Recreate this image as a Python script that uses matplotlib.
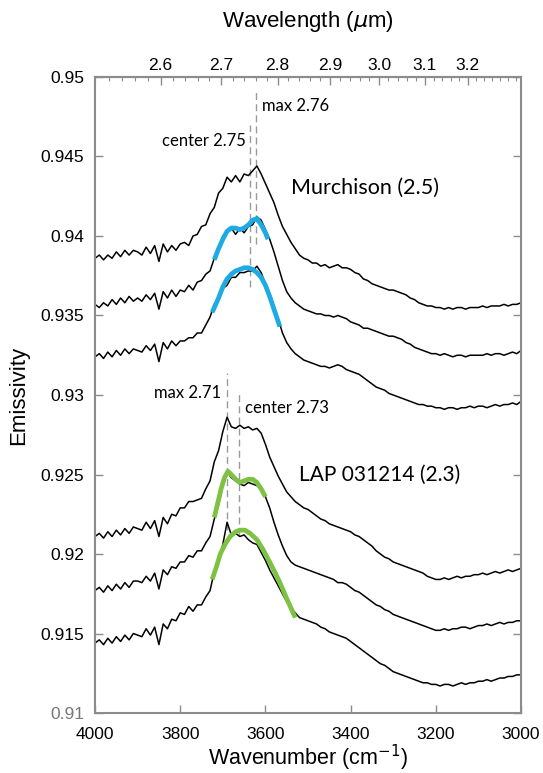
import numpy as np
import matplotlib
matplotlib.use("Agg")
import matplotlib.pyplot as plt
from matplotlib.ticker import MultipleLocator, FixedLocator, FormatStrFormatter

# wavenumber grid of the spectra (cm-1), 4000 down to 3000 in 10 cm-1 steps
wavenumber = np.arange(4000, 2999, -10)

# Murchison spectra (top to bottom)
murch_1 = [
    0.9386, 0.9388, 0.9385, 0.9388, 0.9386, 0.9390, 0.9387, 0.9391, 0.9388, 0.9391,
    0.9390, 0.9388, 0.9393, 0.9389, 0.9394, 0.9384, 0.9395, 0.9390, 0.9394, 0.9391,
    0.9395, 0.9396, 0.9394, 0.9400, 0.9401, 0.9406, 0.9407, 0.9414, 0.9418, 0.9427,
    0.9430, 0.9437, 0.9434, 0.9438, 0.9434, 0.9439, 0.9438, 0.9441, 0.9444, 0.9439,
    0.9433, 0.9427, 0.9421, 0.9413, 0.9406, 0.9401, 0.9396, 0.9392, 0.9388, 0.9386,
    0.9385, 0.9383, 0.9383, 0.9381, 0.9382, 0.9380, 0.9381, 0.9382, 0.9380, 0.9380,
    0.9379, 0.9377, 0.9376, 0.9373, 0.9372, 0.9370, 0.9369, 0.9368, 0.9367, 0.9366,
    0.9366, 0.9365, 0.9364, 0.9363, 0.9361, 0.9360, 0.9358, 0.9357, 0.9356, 0.9356,
    0.9355, 0.9355, 0.9354, 0.9355, 0.9354, 0.9355, 0.9355, 0.9354, 0.9355, 0.9355,
    0.9355, 0.9356, 0.9355, 0.9356, 0.9356, 0.9356, 0.9357, 0.9356, 0.9357, 0.9357,
    0.9358]
murch_2 = [
    0.9357, 0.9355, 0.9358, 0.9356, 0.9360, 0.9357, 0.9361, 0.9358, 0.9362, 0.9359,
    0.9361, 0.9359, 0.9363, 0.9360, 0.9364, 0.9354, 0.9365, 0.9361, 0.9366, 0.9362,
    0.9366, 0.9365, 0.9369, 0.9366, 0.9371, 0.9372, 0.9376, 0.9378, 0.9386, 0.9391,
    0.9400, 0.9402, 0.9405, 0.9401, 0.9405, 0.9402, 0.9406, 0.9407, 0.9412, 0.9410,
    0.9404, 0.9398, 0.9390, 0.9381, 0.9372, 0.9365, 0.9361, 0.9358, 0.9356, 0.9354,
    0.9353, 0.9352, 0.9351, 0.9351, 0.9350, 0.9350, 0.9349, 0.9350, 0.9349, 0.9348,
    0.9346, 0.9345, 0.9344, 0.9342, 0.9342, 0.9341, 0.9340, 0.9339, 0.9338, 0.9337,
    0.9337, 0.9336, 0.9335, 0.9333, 0.9332, 0.9330, 0.9329, 0.9328, 0.9327, 0.9326,
    0.9326, 0.9325, 0.9326, 0.9325, 0.9324, 0.9325, 0.9325, 0.9324, 0.9325, 0.9325,
    0.9325, 0.9325, 0.9326, 0.9325, 0.9326, 0.9326, 0.9325, 0.9326, 0.9327, 0.9326,
    0.9328]
murch_3 = [
    0.9324, 0.9326, 0.9323, 0.9327, 0.9324, 0.9328, 0.9325, 0.9329, 0.9326, 0.9329,
    0.9328, 0.9327, 0.9331, 0.9328, 0.9332, 0.9321, 0.9333, 0.9329, 0.9334, 0.9331,
    0.9334, 0.9334, 0.9336, 0.9336, 0.9339, 0.9339, 0.9344, 0.9349, 0.9357, 0.9361,
    0.9367, 0.9369, 0.9374, 0.9374, 0.9377, 0.9377, 0.9378, 0.9378, 0.9381, 0.9377,
    0.9370, 0.9364, 0.9356, 0.9348, 0.9339, 0.9333, 0.9329, 0.9326, 0.9324, 0.9322,
    0.9321, 0.9320, 0.9319, 0.9318, 0.9318, 0.9317, 0.9318, 0.9319, 0.9318, 0.9316,
    0.9315, 0.9314, 0.9313, 0.9311, 0.9309, 0.9307, 0.9305, 0.9304, 0.9303, 0.9301,
    0.9300, 0.9299, 0.9298, 0.9297, 0.9296, 0.9295, 0.9294, 0.9294, 0.9293, 0.9293,
    0.9292, 0.9292, 0.9291, 0.9292, 0.9292, 0.9291, 0.9292, 0.9292, 0.9293, 0.9292,
    0.9293, 0.9293, 0.9292, 0.9293, 0.9294, 0.9293, 0.9294, 0.9294, 0.9295, 0.9294,
    0.9296]

# LAP 031214 spectra (top to bottom)
lap_1 = [
    0.9211, 0.9213, 0.9210, 0.9214, 0.9211, 0.9215, 0.9212, 0.9216, 0.9213, 0.9217,
    0.9216, 0.9215, 0.9220, 0.9216, 0.9221, 0.9211, 0.9223, 0.9219, 0.9225, 0.9224,
    0.9229, 0.9229, 0.9233, 0.9233, 0.9234, 0.9235, 0.9241, 0.9246, 0.9258, 0.9265,
    0.9277, 0.9286, 0.9280, 0.9279, 0.9281, 0.9279, 0.9280, 0.9278, 0.9279, 0.9276,
    0.9269, 0.9261, 0.9255, 0.9249, 0.9244, 0.9239, 0.9236, 0.9233, 0.9231, 0.9229,
    0.9228, 0.9226, 0.9224, 0.9222, 0.9221, 0.9219, 0.9218, 0.9217, 0.9216, 0.9215,
    0.9214, 0.9212, 0.9211, 0.9209, 0.9207, 0.9205, 0.9202, 0.9200, 0.9198, 0.9197,
    0.9195, 0.9194, 0.9193, 0.9192, 0.9191, 0.9190, 0.9189, 0.9188, 0.9186, 0.9185,
    0.9184, 0.9184, 0.9185, 0.9184, 0.9185, 0.9186, 0.9185, 0.9186, 0.9186, 0.9187,
    0.9187, 0.9188, 0.9187, 0.9188, 0.9189, 0.9188, 0.9189, 0.9190, 0.9189, 0.9190,
    0.9191]
lap_2 = [
    0.9177, 0.9179, 0.9176, 0.9180, 0.9177, 0.9181, 0.9178, 0.9182, 0.9179, 0.9183,
    0.9183, 0.9182, 0.9186, 0.9183, 0.9188, 0.9178, 0.9190, 0.9187, 0.9192, 0.9191,
    0.9195, 0.9195, 0.9199, 0.9198, 0.9202, 0.9202, 0.9207, 0.9211, 0.9222, 0.9231,
    0.9243, 0.9252, 0.9248, 0.9246, 0.9244, 0.9243, 0.9245, 0.9244, 0.9243, 0.9241,
    0.9236, 0.9229, 0.9220, 0.9212, 0.9205, 0.9199, 0.9195, 0.9193, 0.9192, 0.9191,
    0.9190, 0.9189, 0.9188, 0.9187, 0.9186, 0.9185, 0.9184, 0.9182, 0.9182, 0.9181,
    0.9179, 0.9177, 0.9176, 0.9174, 0.9172, 0.9170, 0.9168, 0.9167, 0.9165, 0.9164,
    0.9162, 0.9161, 0.9160, 0.9159, 0.9158, 0.9157, 0.9156, 0.9155, 0.9154, 0.9153,
    0.9152, 0.9152, 0.9153, 0.9152, 0.9153, 0.9153, 0.9154, 0.9154, 0.9153, 0.9154,
    0.9155, 0.9155, 0.9156, 0.9155, 0.9156, 0.9157, 0.9156, 0.9157, 0.9157, 0.9158,
    0.9158]
lap_3 = [
    0.9144, 0.9146, 0.9143, 0.9147, 0.9144, 0.9148, 0.9145, 0.9149, 0.9146, 0.9150,
    0.9149, 0.9148, 0.9153, 0.9149, 0.9154, 0.9143, 0.9156, 0.9153, 0.9159, 0.9158,
    0.9163, 0.9162, 0.9167, 0.9164, 0.9168, 0.9168, 0.9173, 0.9177, 0.9189, 0.9196,
    0.9206, 0.9220, 0.9212, 0.9213, 0.9211, 0.9212, 0.9209, 0.9207, 0.9206, 0.9201,
    0.9196, 0.9190, 0.9185, 0.9180, 0.9175, 0.9170, 0.9166, 0.9163, 0.9160, 0.9159,
    0.9158, 0.9157, 0.9156, 0.9154, 0.9153, 0.9151, 0.9150, 0.9149, 0.9148, 0.9147,
    0.9145, 0.9143, 0.9141, 0.9139, 0.9137, 0.9135, 0.9133, 0.9131, 0.9130, 0.9128,
    0.9126, 0.9125, 0.9124, 0.9123, 0.9122, 0.9121, 0.9120, 0.9119, 0.9119, 0.9118,
    0.9118, 0.9117, 0.9118, 0.9118, 0.9117, 0.9118, 0.9119, 0.9118, 0.9119, 0.9119,
    0.9120, 0.9120, 0.9121, 0.9120, 0.9121, 0.9122, 0.9122, 0.9123, 0.9123, 0.9124,
    0.9124]

# band fits
fit_murch_2_wn = [3720, 3710, 3700, 3690, 3680, 3670, 3660, 3650, 3640, 3630, 3620, 3610, 3600, 3594]
fit_murch_2 = [0.9385, 0.9392, 0.9398, 0.9403, 0.9405, 0.9405, 0.9404, 0.9405, 0.9407, 0.9410,
               0.9411, 0.9407, 0.9402, 0.9398]
fit_murch_3_wn = [3725, 3710, 3700, 3690, 3680, 3670, 3660, 3650, 3640, 3630, 3620, 3610, 3600,
                  3590, 3580, 3566]
fit_murch_3 = [0.9352, 0.9361, 0.9368, 0.9373, 0.9376, 0.9378, 0.9379, 0.9380, 0.9380, 0.9379,
               0.9377, 0.9374, 0.9369, 0.9362, 0.9354, 0.9343]
fit_lap_2_wn = [3720, 3712, 3704, 3696, 3688, 3680, 3670, 3660, 3650, 3640, 3630, 3620, 3610, 3600]
fit_lap_2 = [0.9223, 0.9232, 0.9241, 0.9248, 0.9252, 0.9250, 0.9247, 0.9245, 0.9246, 0.9247,
             0.9247, 0.9245, 0.9241, 0.9236]
fit_lap_3_wn = [3725, 3715, 3706, 3695, 3683, 3670, 3660, 3648, 3636, 3620, 3606, 3590, 3575,
                3566, 3550, 3530]
fit_lap_3 = [0.9184, 0.9192, 0.9200, 0.9206, 0.9211, 0.9214, 0.9215, 0.9215, 0.9213, 0.9209,
             0.9203, 0.9195, 0.9187, 0.9182, 0.9172, 0.9160]

# band position markers: (wavelength in um, y from, y to)
marker_wl = [2.75, 2.76, 2.71, 2.73]
marker_lo = [0.9368, 0.9395, 0.9215, 0.9212]
marker_hi = [0.9470, 0.9492, 0.9314, 0.9302]

yticks = [0.91, 0.915, 0.92, 0.925, 0.93, 0.935, 0.94, 0.945, 0.95]
ytick_labels = ["0.91", "0.915", "0.92", "0.925", "0.93", "0.935", "0.94", "0.945", "0.95"]
xticks = [4000, 3800, 3600, 3400, 3200, 3000]
wl_ticks = [2.6, 2.7, 2.8, 2.9, 3.0, 3.1, 3.2]

BLUE = "#1eaae2"
GREEN = "#7dc242"
FRAME = "#8c8c8c"

plt.rcParams["font.family"] = ["Liberation Sans", "DejaVu Sans"]
note_font = ["Lato", "DejaVu Sans"]

fig = plt.figure(figsize=(5.43, 7.73), dpi=100)
ax = fig.add_axes([0.175, 0.0776, 0.7845, 0.8228])

for spec in [murch_1, murch_2, murch_3, lap_1, lap_2, lap_3]:
    ax.plot(wavenumber, spec, color="black", lw=1.1, zorder=2)

ax.plot(fit_murch_2_wn, fit_murch_2, color=BLUE, lw=3.4, solid_capstyle="butt", zorder=3)
ax.plot(fit_murch_3_wn, fit_murch_3, color=BLUE, lw=3.4, solid_capstyle="butt", zorder=3)
ax.plot(fit_lap_2_wn, fit_lap_2, color=GREEN, lw=3.4, solid_capstyle="butt", zorder=3)
ax.plot(fit_lap_3_wn, fit_lap_3, color=GREEN, lw=3.4, solid_capstyle="butt", zorder=3)

for wl, y0, y1 in zip(marker_wl, marker_lo, marker_hi):
    wn = 10000.0 / wl
    ax.plot([wn, wn], [y0, y1], color="#9a9a9a", lw=1.0, ls=(0, (5, 3)), zorder=1)

# marker labels
ax.text(10000 / 2.75 + 10, 0.9460, "center 2.75", ha="right", va="center", fontsize=12,
        family=note_font)
ax.text(10000 / 2.76 - 14, 0.9482, "max 2.76", ha="left", va="center", fontsize=12,
        family=note_font)
ax.text(10000 / 2.71 + 14, 0.9301, "max 2.71", ha="right", va="center", fontsize=12,
        family=note_font)
ax.text(10000 / 2.73 - 14, 0.9292, "center 2.73", ha="left", va="center", fontsize=12,
        family=note_font)
ax.text(3540, 0.9430, "Murchison (2.5)", ha="left", va="center", fontsize=15.5,
        family=note_font)
ax.text(3522, 0.9250, "LAP 031214 (2.3)", ha="left", va="center", fontsize=15,
        family=note_font)

ax.set_xlim(4000, 3000)
ax.set_ylim(0.91, 0.95)
ax.set_xticks(xticks)
ax.set_yticks(yticks, labels=ytick_labels)
ax.tick_params(axis="both", direction="in", colors=FRAME, labelcolor="black",
               labelsize=12.5, length=6, width=1)
ax.get_yticklabels()[0].set_color("#777777")
ax.tick_params(axis="y", right=True, pad=8)
ax.tick_params(axis="x", pad=10)
for sp in ax.spines.values():
    sp.set_color(FRAME)
    sp.set_linewidth(1.5)

ax.set_xlabel("Wavenumber (cm$^{-1}$)", fontsize=15.5, labelpad=1)
ax.set_ylabel("Emissivity", fontsize=16, labelpad=8)


def to_wl(x):
    x = np.asarray(x, dtype=float)
    with np.errstate(divide="ignore"):
        return 10000.0 / x


top = ax.secondary_xaxis("top", functions=(to_wl, to_wl))
top.xaxis.set_major_locator(FixedLocator(wl_ticks))
top.xaxis.set_minor_locator(MultipleLocator(0.02))
top.xaxis.set_major_formatter(FormatStrFormatter("%.1f"))
top.tick_params(which="major", direction="in", length=6, width=1, colors=FRAME,
                labelcolor="black", labelsize=12.5, pad=3)
top.tick_params(which="minor", direction="in", length=3, width=0.8, colors=FRAME)
top.spines["top"].set_color(FRAME)
top.spines["top"].set_linewidth(1.5)
top.set_xlabel("Wavelength ($\\mu$m)", fontsize=16, labelpad=22)

fig.savefig("out.png", dpi=100)
